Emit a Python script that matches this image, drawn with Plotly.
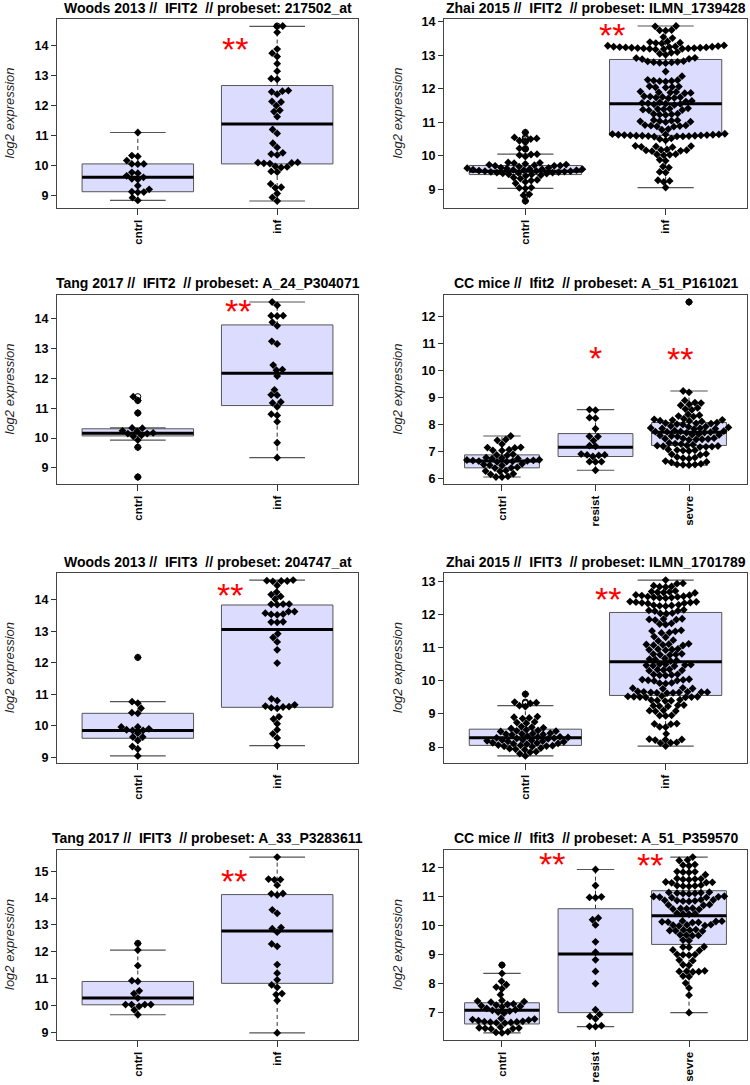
import math
import numpy as np
import plotly.graph_objects as go

W, H = 750, 1085

# ---------------- data: log2 expression values ----------------
GROUPS_2 = ["cntrl", "inf"]
GROUPS_3 = ["cntrl", "resist", "sevre"]

TITLES = [
    "Woods 2013 //  IFIT2  // probeset: 217502_at",
    "Zhai 2015 //  IFIT2  // probeset: ILMN_1739428",
    "Tang 2017 //  IFIT2  // probeset: A_24_P304071",
    "CC mice //  Ifit2  // probeset: A_51_P161021",
    "Woods 2013 //  IFIT3  // probeset: 204747_at",
    "Zhai 2015 //  IFIT3  // probeset: ILMN_1701789",
    "Tang 2017 //  IFIT3  // probeset: A_33_P3283611",
    "CC mice //  Ifit3  // probeset: A_51_P359570",
]

# Woods 2013 IFIT2
woods2_cntrl = [11.10, 10.33, 10.30, 10.16, 10.05, 10.05, 10.04, 9.77, 9.74, 9.65,
                9.60, 9.55, 9.53, 9.32, 9.20, 9.12, 9.11, 9.10, 8.92, 8.83]
woods2_inf = [14.66, 14.65, 14.45, 13.89, 13.75, 13.64, 13.40, 13.15, 12.90, 12.88,
              12.50, 12.48, 12.46, 12.38, 12.14, 12.12, 12.00, 11.84, 11.80, 11.63,
              11.20, 11.07, 10.74, 10.60, 10.42, 10.38, 10.35, 10.10, 10.09, 10.08,
              10.07, 10.06, 9.97, 9.95, 9.93, 9.80, 9.78, 9.38, 9.27, 9.25, 9.06, 8.93, 8.81]
woods2_q1 = [9.12, 10.05]
woods2_med = [9.60, 11.38]
woods2_q3 = [10.05, 12.67]
woods2_lo = [8.83, 8.81]
woods2_hi = [11.10, 14.65]

# Zhai 2015 IFIT2
zhai2_cntrl = [10.70, 10.55, 10.52, 10.50, 10.45, 10.42, 10.22, 10.20, 10.05, 10.04,
               10.02, 9.98, 9.80, 9.79, 9.78, 9.76, 9.74, 9.73, 9.72, 9.71, 9.70, 9.70,
               9.68, 9.65, 9.64, 9.63, 9.62, 9.61, 9.60, 9.60, 9.59, 9.58, 9.57, 9.57,
               9.56, 9.55, 9.54, 9.54, 9.53, 9.52, 9.51, 9.50, 9.50, 9.49, 9.48, 9.47,
               9.45, 9.44, 9.42, 9.40, 9.35, 9.32, 9.28, 9.26, 9.22, 9.18, 9.05, 9.04,
               9.03, 8.85, 8.82, 8.65]
zhai2_inf = [13.88, 13.87, 13.76, 13.75, 13.74, 13.55, 13.52, 13.42, 13.40, 13.38,
             13.37, 13.36, 13.30, 13.29, 13.28, 13.27, 13.26, 13.26, 13.25, 13.25,
             13.24, 13.24, 13.23, 13.23, 13.22, 13.22, 13.21, 13.21, 13.20, 13.20,
             13.19, 13.18, 13.10, 13.08, 13.05, 13.02, 12.93, 12.92, 12.90, 12.89,
             12.83, 12.82, 12.81, 12.80, 12.79, 12.78, 12.77, 12.52, 12.38, 12.27,
             12.26, 12.25, 12.24, 12.23, 12.22, 12.08, 12.07, 12.06, 12.05, 12.04,
             11.92, 11.91, 11.90, 11.89, 11.88, 11.87, 11.78, 11.77, 11.76, 11.75,
             11.74, 11.73, 11.72, 11.64, 11.62, 11.60, 11.58, 11.57, 11.56, 11.55,
             11.54, 11.52, 11.42, 11.41, 11.40, 11.39, 11.38, 11.37, 11.36, 11.26,
             11.25, 11.24, 11.23, 11.22, 11.07, 11.06, 11.05, 11.04, 11.03, 11.02,
             11.01, 10.92, 10.91, 10.90, 10.89, 10.88, 10.87, 10.80, 10.78, 10.66,
             10.65, 10.64, 10.64, 10.63, 10.63, 10.62, 10.62, 10.61, 10.61, 10.60,
             10.60, 10.60, 10.59, 10.59, 10.58, 10.58, 10.57, 10.52, 10.50, 10.46,
             10.30, 10.29, 10.28, 10.27, 10.26, 10.19, 10.18, 10.17, 10.16, 10.15,
             10.14, 10.05, 10.04, 10.03, 10.02, 9.88, 9.85, 9.68, 9.65, 9.52, 9.50,
             9.27, 9.25, 9.22, 9.05]
zhai2_q1 = [9.44, 10.61]
zhai2_med = [9.54, 11.56]
zhai2_q3 = [9.71, 12.88]
zhai2_lo = [9.03, 9.05]
zhai2_hi = [10.05, 13.88]

# Tang 2017 IFIT2
tang2_cntrl = [11.39, 11.26, 10.84, 10.34, 10.33, 10.24, 10.23, 10.17, 10.15, 10.15,
               10.09, 10.06, 9.93, 9.69, 8.69]
tang2_inf = [14.57, 14.46, 14.11, 14.11, 14.10, 13.89, 13.77, 13.25, 13.16, 12.45,
             12.30, 12.28, 12.08, 11.62, 11.45, 11.44, 11.21, 11.18, 11.05, 10.80,
             10.76, 10.55, 9.84, 9.34]
tang2_q1 = [10.07, 11.09]
tang2_med = [10.16, 12.18]
tang2_q3 = [10.31, 13.80]
tang2_lo = [9.93, 9.34]
tang2_hi = [10.34, 14.57]

# CC mice Ifit2
cc2_cntrl = [7.58, 7.45, 7.42, 7.28, 7.16, 7.15, 7.14, 7.07, 7.05, 7.04, 6.90, 6.88,
             6.86, 6.78, 6.76, 6.75, 6.74, 6.70, 6.69, 6.68, 6.67, 6.66, 6.65, 6.64,
             6.63, 6.62, 6.55, 6.52, 6.50, 6.49, 6.42, 6.40, 6.39, 6.30, 6.28, 6.27,
             6.18, 6.16, 6.08, 6.06, 6.06]
cc2_resist = [8.56, 8.54, 8.26, 8.24, 7.85, 7.57, 7.56, 7.41, 7.22, 7.20, 6.91, 6.88,
              6.88, 6.86, 6.82, 6.63, 6.63, 6.62, 6.31]
cc2_sevre = [12.55, 9.25, 9.20, 8.90, 8.82, 8.80, 8.75, 8.72, 8.62, 8.58, 8.55, 8.38,
             8.35, 8.32, 8.30, 8.22, 8.20, 8.18, 8.17, 8.15, 8.14, 8.12, 8.08, 8.06,
             8.05, 8.04, 8.02, 8.00, 7.95, 7.93, 7.92, 7.90, 7.88, 7.87, 7.86, 7.85,
             7.84, 7.78, 7.76, 7.75, 7.74, 7.73, 7.72, 7.71, 7.70, 7.65, 7.63, 7.62,
             7.60, 7.58, 7.56, 7.50, 7.49, 7.48, 7.47, 7.46, 7.45, 7.44, 7.32, 7.30,
             7.28, 7.26, 7.23, 7.22, 7.21, 7.20, 7.19, 7.18, 7.17, 7.08, 7.06, 7.05,
             7.04, 7.02, 6.92, 6.90, 6.88, 6.80, 6.78, 6.76, 6.74, 6.65, 6.62, 6.60,
             6.55, 6.53, 6.52, 6.51, 6.50]
cc2_q1 = [6.40, 6.82, 7.23]
cc2_med = [6.65, 7.16, 7.72]
cc2_q3 = [6.88, 7.67, 8.08]
cc2_lo = [6.06, 6.31, 6.50]
cc2_hi = [7.58, 8.56, 9.25]

# Woods 2013 IFIT3
woods3_cntrl = [12.17, 10.77, 10.72, 10.56, 10.42, 10.40, 9.97, 9.97, 9.91, 9.88, 9.86,
                9.86, 9.77, 9.65, 9.65, 9.54, 9.35, 9.27, 9.05]
woods3_inf = [14.62, 14.60, 14.59, 14.59, 14.58, 14.45, 14.24, 14.16, 14.10, 14.02,
              13.86, 13.86, 13.85, 13.84, 13.62, 13.62, 13.57, 13.54, 13.53, 13.52,
              13.30, 13.29, 13.28, 12.92, 12.80, 12.66, 12.41, 11.99, 10.86, 10.80,
              10.67, 10.63, 10.61, 10.60, 10.58, 10.56, 10.29, 10.22, 10.07, 9.88,
              9.75, 9.62, 9.38]
woods3_q1 = [9.61, 10.59]
woods3_med = [9.86, 13.05]
woods3_q3 = [10.40, 13.83]
woods3_lo = [9.05, 9.38]
woods3_hi = [10.77, 14.62]

# Zhai 2015 IFIT3
zhai3_cntrl = [9.60, 9.36, 9.34, 9.32, 9.25, 9.22, 8.92, 8.90, 8.88, 8.86, 8.76, 8.74,
               8.72, 8.62, 8.60, 8.58, 8.56, 8.52, 8.50, 8.49, 8.48, 8.47, 8.42, 8.41,
               8.40, 8.39, 8.38, 8.37, 8.33, 8.31, 8.30, 8.29, 8.28, 8.27, 8.26, 8.25,
               8.22, 8.21, 8.20, 8.19, 8.18, 8.17, 8.16, 8.13, 8.12, 8.11, 8.10, 8.09,
               8.06, 8.05, 8.04, 8.03, 8.02, 8.01, 7.97, 7.95, 7.93, 7.92, 7.86, 7.84,
               7.80, 7.73]
zhai3_inf = [13.05, 12.95, 12.94, 12.88, 12.86, 12.85, 12.84, 12.72, 12.70, 12.69,
             12.68, 12.67, 12.66, 12.60, 12.59, 12.58, 12.56, 12.55, 12.54, 12.53,
             12.52, 12.51, 12.50, 12.40, 12.39, 12.38, 12.37, 12.36, 12.35, 12.34,
             12.30, 12.29, 12.28, 12.27, 12.26, 12.15, 12.13, 12.12, 12.11, 12.05,
             12.04, 12.03, 11.88, 11.87, 11.86, 11.85, 11.84, 11.74, 11.72, 11.70,
             11.53, 11.51, 11.50, 11.46, 11.45, 11.34, 11.32, 11.23, 11.21, 11.12,
             11.11, 11.10, 11.09, 11.08, 11.07, 10.97, 10.96, 10.95, 10.94, 10.93,
             10.82, 10.81, 10.80, 10.79, 10.78, 10.68, 10.66, 10.64, 10.62, 10.60,
             10.51, 10.50, 10.49, 10.48, 10.47, 10.46, 10.45, 10.35, 10.34, 10.33,
             10.32, 10.31, 10.20, 10.19, 10.18, 10.17, 10.16, 10.05, 10.04, 10.03,
             10.02, 10.01, 10.00, 9.94, 9.93, 9.92, 9.79, 9.78, 9.77, 9.76, 9.68,
             9.67, 9.67, 9.66, 9.66, 9.65, 9.65, 9.64, 9.64, 9.63, 9.54, 9.53, 9.52,
             9.52, 9.51, 9.51, 9.50, 9.50, 9.43, 9.42, 9.41, 9.40, 9.39, 9.27, 9.26,
             9.25, 9.24, 9.23, 9.11, 9.10, 9.09, 9.08, 8.96, 8.95, 8.94, 8.71, 8.70,
             8.69, 8.61, 8.60, 8.40, 8.24, 8.23, 8.22, 8.21, 8.14, 8.13, 8.12, 8.03]
zhai3_q1 = [8.05, 9.56]
zhai3_med = [8.28, 10.58]
zhai3_q3 = [8.54, 12.07]
zhai3_lo = [7.73, 8.03]
zhai3_hi = [9.25, 13.05]

# Tang 2017 IFIT3
tang3_cntrl = [12.31, 12.06, 11.48, 10.92, 10.89, 10.54, 10.44, 10.27, 10.03, 10.03,
               10.03, 10.03, 9.96, 9.83, 9.65]
tang3_inf = [15.53, 14.71, 14.69, 14.68, 14.48, 14.17, 14.16, 14.11, 13.56, 13.43,
             12.90, 12.86, 12.73, 12.29, 12.20, 11.52, 11.20, 10.95, 10.76, 10.67,
             10.44, 10.40, 10.18, 8.97]
tang3_q1 = [10.02, 10.82]
tang3_med = [10.27, 12.77]
tang3_q3 = [10.89, 14.13]
tang3_lo = [9.65, 8.97]
tang3_hi = [12.06, 15.53]

# CC mice Ifit3
cc3_cntrl = [8.64, 8.35, 8.08, 7.96, 7.88, 7.82, 7.62, 7.42, 7.40, 7.38, 7.36, 7.30,
             7.28, 7.26, 7.24, 7.22, 7.20, 7.15, 7.10, 7.08, 7.05, 7.02, 6.98, 6.80,
             6.78, 6.76, 6.74, 6.72, 6.70, 6.69, 6.68, 6.67, 6.66, 6.65, 6.64, 6.50,
             6.48, 6.47, 6.46, 6.45, 6.44, 6.34, 6.32, 6.30]
cc3_resist = [11.93, 11.38, 10.99, 10.97, 10.96, 10.26, 10.20, 10.02, 9.44, 9.08, 8.82,
              8.42, 8.00, 7.10, 6.94, 6.87, 6.79, 6.55, 6.53, 6.52]
cc3_sevre = [12.36, 12.26, 12.24, 12.10, 12.08, 12.06, 11.86, 11.85, 11.84, 11.83,
             11.75, 11.62, 11.61, 11.60, 11.59, 11.58, 11.50, 11.49, 11.48, 11.47,
             11.39, 11.38, 11.37, 11.36, 11.35, 11.15, 11.14, 11.13, 11.12, 11.11,
             11.10, 11.09, 11.01, 11.00, 10.99, 10.98, 10.97, 10.96, 10.89, 10.88,
             10.87, 10.86, 10.85, 10.84, 10.83, 10.72, 10.71, 10.70, 10.60, 10.59,
             10.58, 10.57, 10.56, 10.42, 10.41, 10.40, 10.39, 10.16, 10.15, 10.14,
             10.13, 10.12, 10.11, 10.10, 10.03, 10.02, 10.01, 10.00, 9.99, 9.86,
             9.85, 9.84, 9.83, 9.82, 9.81, 9.68, 9.67, 9.66, 9.65, 9.50, 9.48, 9.27,
             9.26, 9.25, 9.16, 9.14, 9.01, 9.00, 8.99, 8.98, 8.81, 8.79, 8.65, 8.63,
             8.44, 8.43, 8.42, 8.41, 8.40, 8.26, 8.24, 8.02, 7.85, 7.60, 7.00]
cc3_q1 = [6.61, 7.00, 9.35]
cc3_med = [7.08, 9.02, 10.34]
cc3_q3 = [7.34, 10.58, 11.20]
cc3_lo = [6.30, 6.52, 7.00]
cc3_hi = [8.35, 11.93, 12.36]

# significance marks: (group position, y value, text)
stars_1 = [(1.70, 14.00, "**")]
stars_2 = [(1.62, 13.69, "**")]
stars_3 = [(1.72, 14.36, "**")]
stars_4 = [(2.00, 10.59, "*"), (2.90, 10.53, "**")]
stars_5 = [(1.66, 14.24, "**")]
stars_6 = [(1.59, 12.56, "**")]
stars_7 = [(1.69, 14.73, "**")]
stars_8 = [(1.54, 12.22, "**"), (2.58, 12.20, "**")]

panels = [
    (GROUPS_2, [woods2_cntrl, woods2_inf], woods2_q1, woods2_med, woods2_q3, woods2_lo, woods2_hi, stars_1),
    (GROUPS_2, [zhai2_cntrl, zhai2_inf], zhai2_q1, zhai2_med, zhai2_q3, zhai2_lo, zhai2_hi, stars_2),
    (GROUPS_2, [tang2_cntrl, tang2_inf], tang2_q1, tang2_med, tang2_q3, tang2_lo, tang2_hi, stars_3),
    (GROUPS_3, [cc2_cntrl, cc2_resist, cc2_sevre], cc2_q1, cc2_med, cc2_q3, cc2_lo, cc2_hi, stars_4),
    (GROUPS_2, [woods3_cntrl, woods3_inf], woods3_q1, woods3_med, woods3_q3, woods3_lo, woods3_hi, stars_5),
    (GROUPS_2, [zhai3_cntrl, zhai3_inf], zhai3_q1, zhai3_med, zhai3_q3, zhai3_lo, zhai3_hi, stars_6),
    (GROUPS_2, [tang3_cntrl, tang3_inf], tang3_q1, tang3_med, tang3_q3, tang3_lo, tang3_hi, stars_7),
    (GROUPS_3, [cc3_cntrl, cc3_resist, cc3_sevre], cc3_q1, cc3_med, cc3_q3, cc3_lo, cc3_hi, stars_8),
]

# ---------------- layout in pixels ----------------
COL_X = [(57, 358), (444, 747)]
ROW_Y = [(19, 208), (295, 484), (573, 763), (850, 1040)]
TITLE_Y = [8, 283, 562, 838]
YLAB_X = [9, 397]

FONT = "Liberation Sans, Arial, sans-serif"
BOX_FILL = "#DCDCFF"
BOX_LINE = "#555555"
DOT_GAP = 6.0  # px between swarm points


def swarm_offsets(vals, ypx, d):
    """Simple beeswarm: place points (ascending) as close to centre as possible."""
    vals = np.asarray(vals, float)
    y = vals * ypx
    order = np.argsort(vals, kind="stable")
    xs = np.zeros(len(vals))
    placed = []
    for i in order:
        near = [(px, py) for px, py in placed if abs(py - y[i]) < d]
        cands = [0.0]
        for px, py in near:
            dx = math.sqrt(d * d - (py - y[i]) ** 2)
            cands += [px - dx, px + dx]
        cands.sort(key=lambda c: (abs(c), c))
        for c in cands:
            if all((c - px) ** 2 + (y[i] - py) ** 2 >= d * d - 1e-6 for px, py in near):
                xs[i] = c
                break
        placed.append((xs[i], y[i]))
    return xs


fig = go.Figure()
shapes = []
annotations = []
layout_axes = {}

for k, (groups, series, q1, med, q3, lo, hi, stars) in enumerate(panels):
    row, col = divmod(k, 2)
    x0px, x1px = COL_X[col]
    y0px, y1px = ROW_Y[row]
    n = len(groups)
    xr = [0.5 - 0.04 * n, n + 0.5 + 0.04 * n]
    allv = [v for s in series for v in s] + lo + hi
    vmin, vmax = min(allv), max(allv)
    pad = 0.04 * (vmax - vmin)
    yr = [vmin - pad, vmax + pad]
    px_per_x = (x1px - x0px) / (xr[1] - xr[0])
    px_per_y = (y1px - y0px) / (yr[1] - yr[0])

    sfx = "" if k == 0 else str(k + 1)
    xa, ya = "x" + sfx, "y" + sfx

    layout_axes["xaxis" + sfx] = dict(
        domain=[x0px / W, x1px / W], anchor=ya, range=xr, automargin=False,
        tickvals=list(range(1, n + 1)), ticktext=groups, tickangle=-90,
        ticks="outside", ticklen=6, tickcolor="#333", tickwidth=1,
        tickfont=dict(family=FONT, size=11.5, color="black", weight="bold"),
        showline=True, mirror=True, linecolor="#444", linewidth=1.3,
        showgrid=False, zeroline=False, fixedrange=True,
    )
    layout_axes["yaxis" + sfx] = dict(
        domain=[1 - y1px / H, 1 - y0px / H], anchor=xa, range=yr, automargin=False,
        tick0=0, dtick=1, ticks="outside", ticklen=5, tickcolor="#333", tickwidth=1,
        tickfont=dict(family=FONT, size=12.5, color="black", weight="bold"),
        showline=True, mirror=True, linecolor="#444", linewidth=1.3,
        showgrid=False, zeroline=False, fixedrange=True,
    )

    for g in range(n):
        c = g + 1
        ref = dict(xref=xa, yref=ya, layer="below")
        shapes.append(dict(type="rect", x0=c - 0.4, x1=c + 0.4, y0=q1[g], y1=q3[g],
                           fillcolor=BOX_FILL, line=dict(color=BOX_LINE, width=1), **ref))
        shapes.append(dict(type="line", x0=c, x1=c, y0=q3[g], y1=hi[g],
                           line=dict(color="#333", width=1, dash="4px,3px"), **ref))
        shapes.append(dict(type="line", x0=c, x1=c, y0=lo[g], y1=q1[g],
                           line=dict(color="#333", width=1, dash="4px,3px"), **ref))
        shapes.append(dict(type="line", x0=c - 0.2, x1=c + 0.2, y0=hi[g], y1=hi[g],
                           line=dict(color=BOX_LINE, width=1.2), **ref))
        shapes.append(dict(type="line", x0=c - 0.2, x1=c + 0.2, y0=lo[g], y1=lo[g],
                           line=dict(color=BOX_LINE, width=1.2), **ref))
        shapes.append(dict(type="line", x0=c - 0.4, x1=c + 0.4, y0=med[g], y1=med[g],
                           line=dict(color="black", width=3), **ref))

        vals = series[g]
        outl = [v for v in vals if v > hi[g] + 1e-9 or v < lo[g] - 1e-9]
        if outl:
            fig.add_trace(go.Scatter(
                x=[c] * len(outl), y=outl, mode="markers", xaxis=xa, yaxis=ya,
                marker=dict(symbol="circle-open", size=6, color="black", line=dict(width=1)),
                showlegend=False, hoverinfo="skip"))
        offs = swarm_offsets(vals, px_per_y, DOT_GAP)
        fig.add_trace(go.Scatter(
            x=c + offs / px_per_x, y=vals, mode="markers", xaxis=xa, yaxis=ya,
            marker=dict(symbol="diamond", size=6, color="black", line=dict(width=0)),
            showlegend=False, hoverinfo="y"))

    for sx, sy, txt in stars:
        annotations.append(dict(x=sx, y=sy, xref=xa, yref=ya, text=txt, showarrow=False,
                                xanchor="center", yanchor="middle", yshift=-3,
                                font=dict(family=FONT, size=34, color="#FF0000")))

    annotations.append(dict(
        x=(x0px + x1px) / 2 / W, y=1 - TITLE_Y[row] / H, xref="paper", yref="paper",
        text=TITLES[k], showarrow=False, xanchor="center", yanchor="middle",
        font=dict(family=FONT, size=14, color="black", weight="bold")))
    annotations.append(dict(
        x=YLAB_X[col] / W, y=1 - (y0px + y1px) / 2 / H, xref="paper", yref="paper",
        text="log2 expression", textangle=-90, showarrow=False,
        xanchor="center", yanchor="middle",
        font=dict(family=FONT, size=13, color="#222", style="italic")))

fig.update_layout(
    width=W, height=H,
    margin=dict(l=0, r=0, t=0, b=0, autoexpand=False),
    paper_bgcolor="white", plot_bgcolor="white",
    showlegend=False,
    shapes=shapes, annotations=annotations,
    **layout_axes,
)

# the page's default body margin would shift the figure by 8px
fig.write_html("out.html", config={"displayModeBar": False},
               post_script="document.body.style.margin='0';")
